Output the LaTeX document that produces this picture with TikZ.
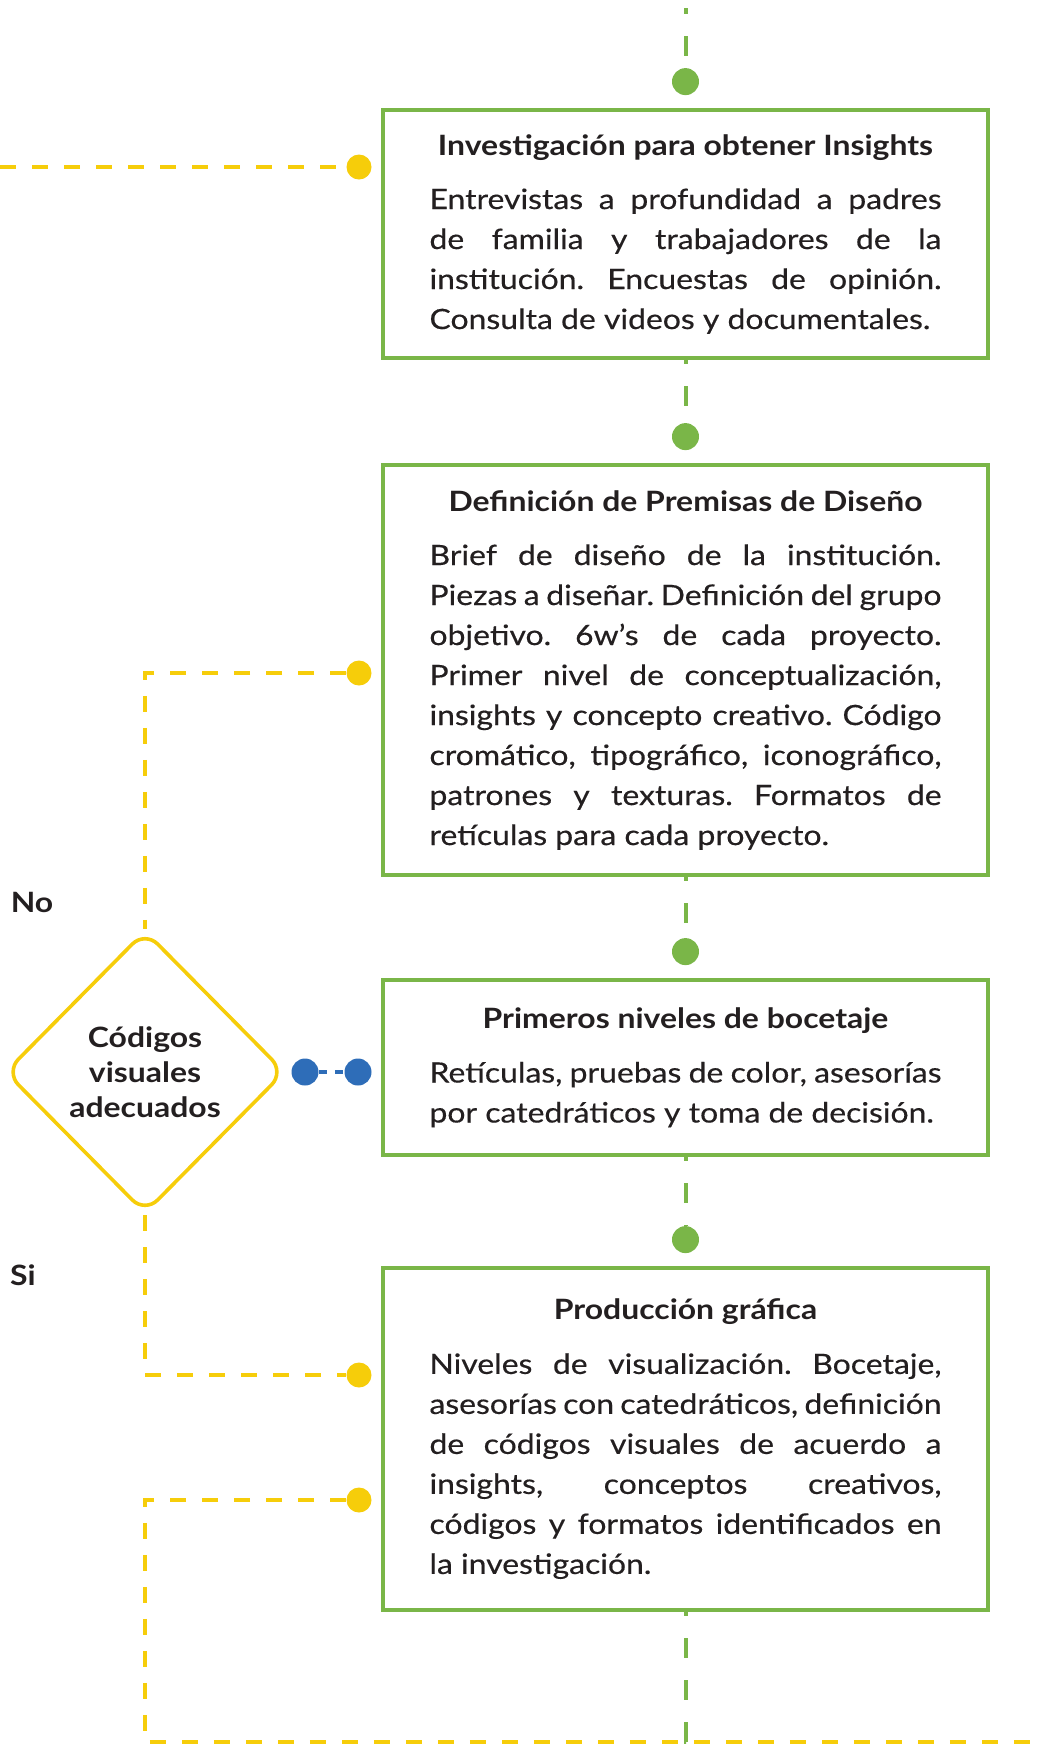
\documentclass[tikz,border=0pt]{standalone}
\usepackage{fontspec}
\setmainfont{Lato}[FakeStretch=1.14, UprightFeatures={FakeBold=0.4}]
\usetikzlibrary{shapes.geometric,positioning,calc}
\frenchspacing

\definecolor{leafgreen}{HTML}{7AB648}
\definecolor{sunyellow}{HTML}{F6CD0A}
\definecolor{steelblue}{HTML}{2E6DB8}
\definecolor{inkgray}{HTML}{231F20}

\begin{document}
\begin{tikzpicture}[
    x=0.5pt, y=0.5pt,
    stage/.style={rectangle, draw=leafgreen, line width=2pt, fill=white, text width=256pt, inner xsep=23.25pt, inner ysep=0pt, outer sep=0pt, align=justify, text=inkgray, font=\fontsize{14pt}{20pt}\selectfont},
    choice/.style={diamond, draw=sunyellow, line width=1.8pt, rounded corners=9pt, minimum width=140pt, minimum height=141.5pt, inner sep=0pt, align=center, text=inkgray, font=\bfseries\fontsize{14pt}{17.5pt}\selectfont},
    gdot/.style={circle, fill=leafgreen, minimum size=13.5pt, inner sep=0pt},
    ydot/.style={circle, fill=sunyellow, minimum size=12.5pt, inner sep=0pt},
    bdot/.style={circle, fill=steelblue, minimum size=13.5pt, inner sep=0pt},
    glink/.style={draw=leafgreen, line width=2pt, dash pattern=on 10pt off 11pt, dash phase=7pt},
    ylink/.style={draw=sunyellow, line width=2.2pt, dash pattern=on 8pt off 8pt},
    blink/.style={draw=steelblue, line width=2pt, dash pattern=on 4pt off 4pt},
    tag/.style={text=inkgray, font=\bfseries\fontsize{14pt}{16pt}\selectfont},
    node distance=7.25pt
    ]
    \useasboundingbox (0,0) rectangle (1045,-1753);

    % etapas del proceso
    \node[stage, minimum height=124pt] (invest) at (685.5,-234) {{\centering\bfseries Investigación para obtener Insights\par}\vspace{7pt}
        Entrevistas a profundidad a padres\linebreak de familia y trabajadores de la\linebreak institución. Encuestas de opinión.\linebreak Consulta de videos y documentales.};
    \node[stage, minimum height=205pt, below=53.5pt of invest] (premisas) {{\centering\bfseries Definición de Premisas de Diseño\par}\vspace{7pt}
        Brief de diseño de la institución.\linebreak Piezas a diseñar. Definición del grupo\linebreak objetivo. 6w’s de cada proyecto.\linebreak Primer nivel de conceptualización,\linebreak insights y concepto creativo. Código\linebreak cromático, tipográfico, iconográfico,\linebreak patrones y texturas. Formatos de\linebreak retículas para cada proyecto.};
    \node[stage, minimum height=87.5pt, below=52.5pt of premisas] (boceto) {{\centering\bfseries Primeros niveles de bocetaje\par}\vspace{7pt}
        Retículas, pruebas de color, asesorías\linebreak por catedráticos y toma de decisión.};
    \node[stage, minimum height=171pt, below=56.5pt of boceto] (produccion) {{\centering\bfseries Producción gráfica\par}\vspace{7pt}
        Niveles de visualización. Bocetaje,\linebreak asesorías con catedráticos, definición\linebreak de códigos visuales de acuerdo a\linebreak insights, conceptos creativos,\linebreak códigos y formatos identificados en\linebreak la investigación.};

    % decision
    \node[choice] (codigos) at (145,-1072) {Códigos\\visuales\\adecuados};
    \node[tag] (no) at (32,-902) {No};
    \node[tag] (si) at (23,-1275) {Si};

    % puntos
    \node[gdot, above=of invest] (g1) {};
    \node[gdot, above=of premisas] (g2) {};
    \node[gdot, above=of boceto] (g3) {};
    \node[gdot, above=of produccion] (g4) {};
    \node[ydot] (y1) at (359,-167) {};
    \node[ydot] (y2) at (359,-673) {};
    \node[ydot] (y3) at (359,-1375) {};
    \node[ydot] (y4) at (359,-1500) {};
    \node[bdot] (b1) at (305,-1072) {};
    \node[bdot] (b2) at (358,-1072) {};

    \coordinate (gtop) at (685.5,-8);
    \coordinate (yin) at (0,-167);
    \coordinate (ybot) at (145,-1742);
    \coordinate (yout) at (1045,-1742);

    % conectores
    \draw[glink] (gtop) -- (g1);
    \draw[glink] (invest) -- (g2);
    \draw[glink] (premisas) -- (g3);
    \draw[glink] (boceto) -- (g4);
    \draw[ylink] (yin) -- (y1);
    \draw[ylink] (y2) -| (codigos.north);
    \draw[ylink] (codigos.south) |- (y3);
    \draw[ylink] (y4) -| (ybot) -- (yout);
    \draw[glink] (produccion.south) -- (produccion.south |- ybot) -- ++(8,0);
    \draw[blink] (b1) -- (b2);
\end{tikzpicture}
\end{document}
